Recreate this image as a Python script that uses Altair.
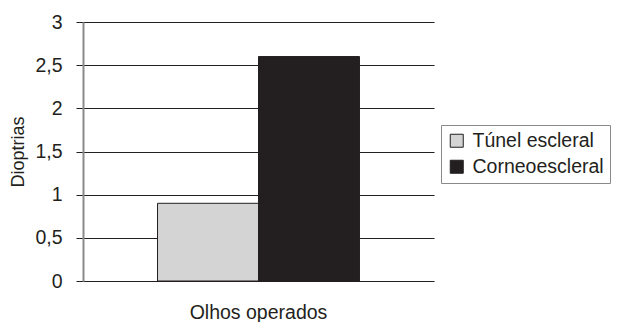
import altair as alt
import pandas as pd

categories = ["Olhos operados"]
series = ["Túnel escleral", "Corneoescleral"]
values = [0.9, 2.6]
colors = ["#d4d4d4", "#231f20"]

df = pd.DataFrame({
    "grupo": [categories[0]] * len(series),
    "serie": series,
    "valor": values,
})

FONT = "Liberation Sans"

chart = alt.Chart(df).mark_bar(stroke="#231f20", strokeWidth=1).encode(
    x=alt.X("grupo:N", title=None,
            scale=alt.Scale(paddingInner=0, paddingOuter=0.369),
            axis=alt.Axis(labelAngle=0, domain=False, ticks=False,
                          labelPadding=22, labelFontSize=19.5, labelFont=FONT,
                          labelColor="#231f20")),
    xOffset=alt.XOffset("serie:N", sort=series,
                        scale=alt.Scale(paddingInner=0, paddingOuter=0)),
    y=alt.Y("valor:Q", title="Dioptrias",
            scale=alt.Scale(domain=[0, 3], nice=False),
            axis=alt.Axis(values=[0, 0.5, 1, 1.5, 2, 2.5, 3],
                          labelExpr="replace(toString(datum.value), '.', ',')",
                          grid=True, gridColor="#231f20", gridWidth=1,
                          domainColor="#8a8a8a", domainWidth=2,
                          tickColor="#231f20", tickSize=7, tickWidth=1,
                          labelPadding=14, labelFontSize=19.5, labelFont=FONT,
                          labelColor="#231f20",
                          titleFont=FONT, titleFontSize=18, titleFontWeight="normal",
                          titleColor="#231f20", titlePadding=7)),
    color=alt.Color("serie:N", sort=series,
                    scale=alt.Scale(domain=series, range=colors),
                    legend=alt.Legend(title=None, orient="none",
                                      legendX=358, legendY=103,
                                      symbolType="square", symbolSize=169,
                                      symbolStrokeColor="#231f20", symbolStrokeWidth=1,
                                      labelFont=FONT, labelFontSize=19.5,
                                      labelColor="#231f20", rowPadding=5,
                                      labelOffset=6,
                                      strokeColor="#8a8a8a", padding=6,
                                      fillColor="white")),
).properties(
    width=351, height=259,
    padding={"left": 83, "top": 22, "right": 187, "bottom": 41},
    autosize=alt.AutoSizeParams(type="none"),
).configure_view(stroke=None)

chart.save("out.html", embed_options={"renderer": "svg", "actions": False})
